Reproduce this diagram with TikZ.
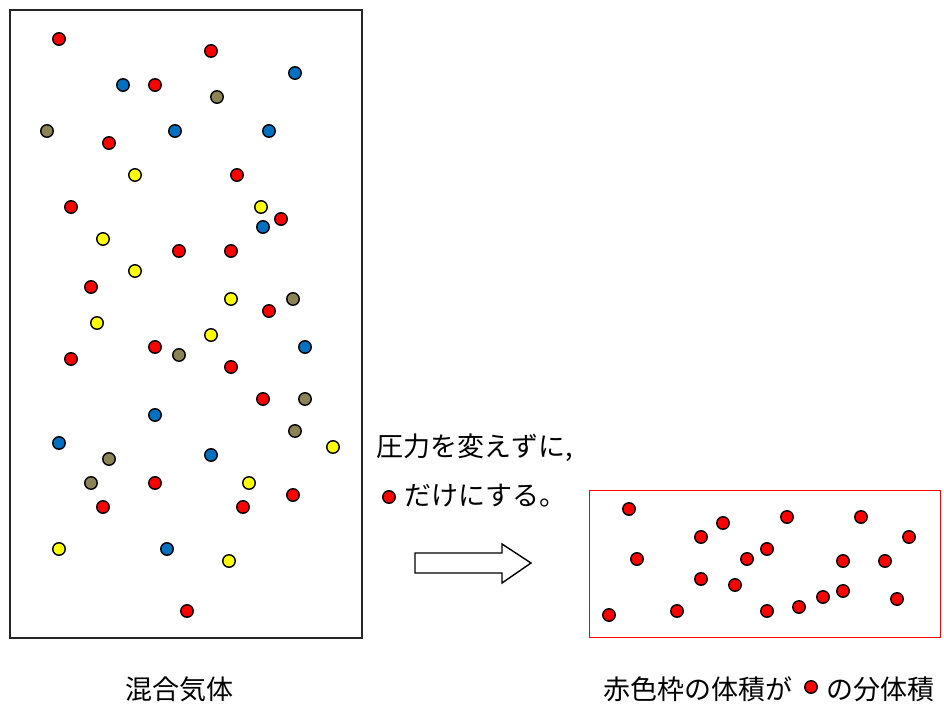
\documentclass[tikz,border=0pt]{standalone}
\usepackage{fontspec}
\newfontfamily\jp{Noto Sans CJK JP}
\definecolor{dred}{RGB}{255,0,0}
\definecolor{dblue}{RGB}{0,112,192}
\definecolor{dolive}{RGB}{140,131,84}
\definecolor{dyellow}{RGB}{255,255,0}
\tikzset{
  dot/.style={circle,draw=black,line width=1.4pt,minimum size=12.5pt,inner sep=0pt},
  rdot/.style={dot,fill=dred},
  bdot/.style={dot,fill=dblue},
  odot/.style={dot,fill=dolive},
  ydot/.style={dot,fill=dyellow},
  lbl/.style={inner sep=0pt,font=\jp\fontsize{27}{32}\selectfont}
}
\begin{document}
\begin{tikzpicture}[x=1pt,y=-1pt]
\useasboundingbox (0,0) rectangle (944,704);
\fill[white] (0,0) rectangle (944,704);
% left box
\node[draw=black!85,line width=1.6pt,minimum width=352pt,minimum height=628pt,inner sep=0pt,anchor=north west] (mix) at (9,9) {};
% red
\foreach \x/\y [count=\i] in {59/39,211/51,155/85,109/143,237/175,71/207,281/219,179/251,231/251,91/287,269/311,155/347,71/359,231/367,263/399,155/483,293/495,103/507,243/507,187/611}
  \node[rdot] (r\i) at (\x,\y) {};
% blue
\foreach \x/\y [count=\i] in {295/73,123/85,175/131,269/131,263/227,305/347,155/415,59/443,211/455,167/549}
  \node[bdot] (b\i) at (\x,\y) {};
% olive
\foreach \x/\y [count=\i] in {217/97,47/131,293/299,179/355,305/399,295/431,109/459,91/483}
  \node[odot] (o\i) at (\x,\y) {};
% yellow
\foreach \x/\y [count=\i] in {135/175,261/207,103/239,135/271,231/299,97/323,211/335,333/447,249/483,59/549,229/561}
  \node[ydot] (y\i) at (\x,\y) {};
% right box
\node[draw=dred,line width=1.3pt,minimum width=351pt,minimum height=147pt,inner sep=0pt,anchor=north west] (part) at (589,490) {};
\foreach \x/\y [count=\i] in {629/509,723/523,787/517,861/517,701/537,909/537,637/559,747/559,767/549,843/561,885/561,701/579,735/585,843/591,823/597,897/599,609/615,677/611,767/611,799/607}
  \node[rdot] (p\i) at (\x,\y) {};
% arrow
\draw[line width=1.4pt,fill=white] (415,553) -- (502,553) -- (502,544) -- (531,563) -- (502,583) -- (502,573) -- (415,573) -- cycle;
% texts
\node[lbl,anchor=west] (t1) at (376,448) {圧力を変えずに,};
\node[rdot] (t2dot) at (389,497) {};
\node[lbl,anchor=west] (t2) at (404,496) {だけにする。};
\node[lbl] (cap1) at (179,689) {混合気体};
\node[lbl,anchor=west] (cap2a) at (603,689) {赤色枠の体積が};
\node[rdot] (cap2dot) at (811,687) {};
\node[lbl,anchor=west] (cap2b) at (826,689) {の分体積};
\end{tikzpicture}
\end{document}
